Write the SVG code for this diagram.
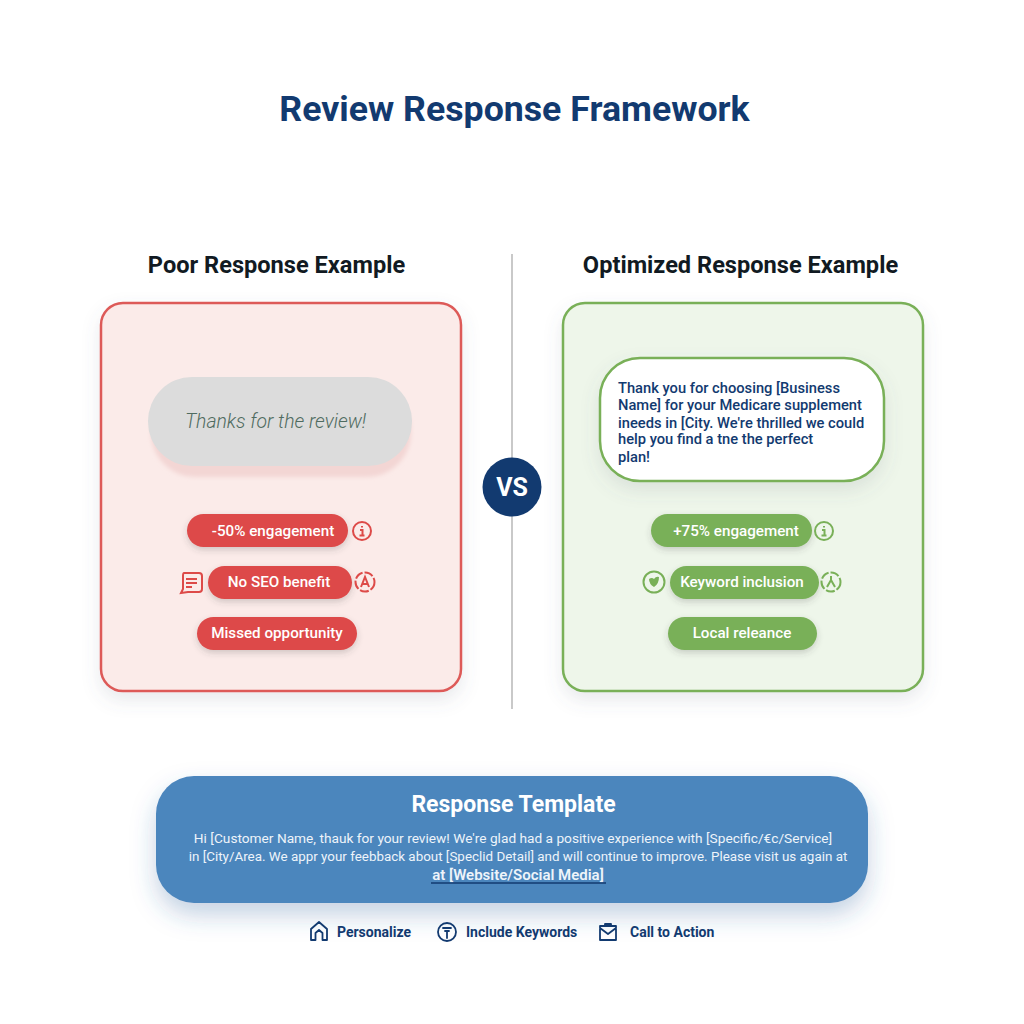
<svg xmlns="http://www.w3.org/2000/svg" width="1024" height="1024" viewBox="0 0 1024 1024">
<defs>
<filter id="sh" x="-20%" y="-20%" width="140%" height="150%"><feDropShadow dx="0" dy="8" stdDeviation="9" flood-color="#5a6a7a" flood-opacity=".14"/></filter>
<filter id="shp" x="-20%" y="-30%" width="140%" height="180%"><feDropShadow dx="0" dy="3" stdDeviation="3" flood-color="#444" flood-opacity=".22"/></filter>
<filter id="shb" x="-20%" y="-30%" width="140%" height="170%"><feDropShadow dx="0" dy="12" stdDeviation="12" flood-color="#2f5f9a" flood-opacity=".28"/></filter>
<filter id="blur"><feGaussianBlur stdDeviation="2"/></filter>
</defs>
<style>
text{font-family:Roboto,"Liberation Sans",sans-serif}
.h{font-size:23.600px;font-weight:700;fill:#111a22;text-anchor:middle}
.p{font-size:15.200px;font-weight:500;fill:#fff;text-anchor:middle}
.b{font-size:14.700px;font-weight:500;fill:#123a70}
.l{font-size:14px;font-weight:700;fill:#123a70}
.t{fill:#eef4fa;text-anchor:middle}
.ir{fill:none;stroke:#dd4a48;stroke-width:2}
.ig{fill:none;stroke:#79b058;stroke-width:2}
.ib{fill:none;stroke:#123a70;stroke-width:1.800;stroke-linejoin:round;stroke-linecap:round}
</style>
<rect width="1024" height="1024" fill="#fff"/>
<text id="title" x="514.500" y="121" font-weight="700" fill="#123a70" text-anchor="middle" style="font-size:35.700px">Review Response Framework</text>
<g id="divider"><line x1="512" y1="254" x2="512" y2="709" stroke="#c9c9c9" stroke-width="2"/></g>
<text class="h" x="276.500" y="273">Poor Response Example</text>
<text class="h" x="740.500" y="273">Optimized Response Example</text>

<g id="poor-panel">
<rect x="101" y="303" width="360" height="388" rx="22" fill="#fbebe9" stroke="#dd5a58" stroke-width="2.500" filter="url(#sh)"/>
<rect x="151" y="385" width="260" height="92" rx="44" fill="#f3d6d4" filter="url(#blur)"/>
<rect x="148" y="377" width="264" height="89" rx="44" fill="#dcdcdc"/>
<text x="275.500" y="428" font-style="italic" font-weight="300" fill="#4f6b60" text-anchor="middle" style="font-size:19.400px">Thanks for the review!</text>
</g>
<g id="poor-metric-1">
<rect x="187" y="514" width="161" height="33" rx="16.500" fill="#dd4a48" filter="url(#shp)"/>
<text class="p" x="273" y="536">-50% engagement</text>
<circle class="ir" cx="362" cy="531" r="9"/><path d="M362 526v1.500M360 530h2.500v5M359.500 535.500h5" class="ir"/>
</g>
<g id="poor-metric-2">
<rect x="208" y="566" width="144" height="33" rx="16.500" fill="#dd4a48" filter="url(#shp)"/>
<text class="p" x="279" y="587">No SEO benefit</text>
<path class="ir" d="M184 573h15q3 0 3 3v13q0 3-3 3h-11l-7 1 2-4v-13q0-3 1-3zM186 579h11M186 583h11M186 587h6"/>
<circle class="ir" cx="365" cy="582" r="9.500" stroke-dasharray="9 2"/><path class="ir" d="M361 587l4-10 4 10M362.500 584h5"/>
</g>
<g id="poor-metric-3">
<rect x="197" y="617" width="160" height="33" rx="16.500" fill="#dd4a48" filter="url(#shp)"/>
<text class="p" x="277" y="638">Missed opportunity</text>
</g>

<g id="optimized-panel">
<rect x="563" y="303" width="360" height="388" rx="22" fill="#eef6ea" stroke="#79b058" stroke-width="2.500" filter="url(#sh)"/>
<rect x="600" y="358" width="284" height="123" rx="40" fill="#fff" stroke="#79b058" stroke-width="2.500" filter="url(#sh)"/>
<text class="b" x="618" y="393">Thank you for choosing [Business</text>
<text class="b" x="618" y="410">Name] for your Medicare supplement</text>
<text class="b" x="618" y="428">ineeds in [City. We're thrilled we could</text>
<text class="b" x="618" y="444">help you find a tne the perfect</text>
<text class="b" x="618" y="462">plan!</text>
</g>
<g id="optimized-metric-1">
<rect x="651" y="514" width="161" height="33" rx="16.500" fill="#79b058" filter="url(#shp)"/>
<text class="p" x="736" y="536">+75% engagement</text>
<circle class="ig" cx="824" cy="531" r="9"/><path class="ig" d="M824 526v1.500M822 530h2.500v5M821.500 535.500h5"/>
</g>
<g id="optimized-metric-2">
<rect x="670" y="566" width="149" height="33" rx="16.500" fill="#79b058" filter="url(#shp)"/>
<text class="p" x="742" y="587">Keyword inclusion</text>
<circle class="ig" cx="654" cy="582" r="10.500"/><path d="M649 579q3-2 5 0 2-3 5-2 0 7-5 10-5-3-5-8z" fill="#79b058"/>
<circle class="ig" cx="831" cy="582" r="9.500" stroke-dasharray="9 2"/><path class="ig" d="M831 576v4M827 587l4-7 4 7"/>
</g>
<g id="optimized-metric-3">
<rect x="668" y="617" width="149" height="33" rx="16.500" fill="#79b058" filter="url(#shp)"/>
<text class="p" x="742" y="638">Local releance</text>
</g>

<g id="vs">
<circle cx="512" cy="487" r="29.500" fill="#123a70"/>
<text x="512" y="496" font-weight="700" fill="#fff" text-anchor="middle" style="font-size:25px">VS</text>
</g>

<g id="template">
<rect x="156" y="776" width="712" height="127" rx="38" fill="#4c86bd" filter="url(#shb)"/>
<text x="513.500" y="812" font-weight="700" fill="#fff" text-anchor="middle" style="font-size:23px">Response Template</text>
<text class="t" x="513" y="843" style="font-size:13.700px">Hi [Customer Name, thauk for your review! We're glad had a positive experience with [Specific/€c/Service]</text>
<text class="t" x="518" y="861" style="font-size:13.400px">in [City/Area. We appr your feebback about [Speclid Detail] and will continue to improve. Please visit us again at</text>
<text class="t" x="518" y="880" style="font-size:15px;font-weight:600" fill="#fff">at [Website/Social Media]</text>
<line x1="431" y1="883" x2="606" y2="883" stroke="#123a70" stroke-width="1.500"/>
</g>
<g id="personalize">
<path class="ib" d="M311 929l8-7 8 7v11h-4.500v-7l-3.500-3-3.500 3v7h-4.500z"/>
<text class="l" x="337" y="937">Personalize</text>
</g>
<g id="include-keywords">
<circle class="ib" cx="447" cy="932" r="9"/><path class="ib" d="M443 928h8M445 931h4M447 931v7"/>
<text class="l" x="466" y="937">Include Keywords</text>
</g>
<g id="call-to-action">
<path class="ib" d="M600 926h16v14h-16zM600 928l8 6 8-6M605 926v-2h6v2"/>
<text class="l" x="630" y="937">Call to Action</text>
</g>
</svg>
